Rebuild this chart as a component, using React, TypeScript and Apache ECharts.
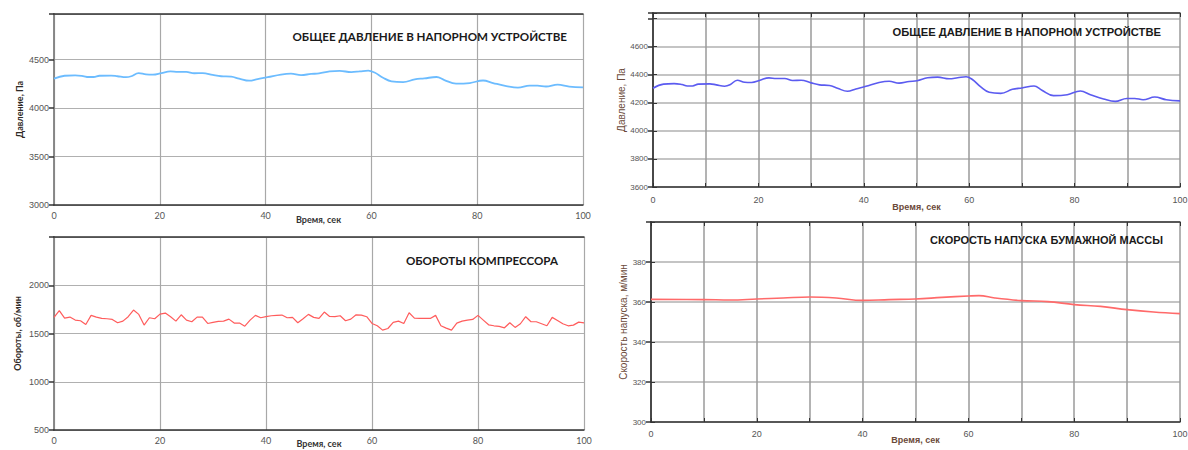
import React, { useEffect, useRef } from "react";
import * as echarts from "echarts";

const pressureTime = [0, 2, 4, 5.5, 6.5, 7.5, 8.6, 10.8, 12, 13.6, 14.6, 16, 17.4, 18.7, 20.3, 22, 23.4, 25, 26.5, 28.1, 30, 31.6, 33.5, 35, 36.9, 38.5, 40.4, 42.9, 44.8, 46.7, 48.6, 50.1, 52.1, 54, 56.2, 57.8, 59.4, 60.6, 62.2, 63.8, 66, 68.2, 70, 72.3, 73.8, 76, 78.6, 81.1, 83, 85.5, 87.7, 89.9, 91.4, 93, 95.2, 97.4, 100];
const pressureValues = [4304, 4333, 4337, 4330, 4320, 4320, 4333, 4335, 4328, 4318, 4328, 4361, 4347, 4345, 4361, 4378, 4373, 4373, 4359, 4361, 4342, 4328, 4323, 4304, 4282, 4299, 4318, 4345, 4354, 4340, 4352, 4357, 4378, 4383, 4371, 4378, 4386, 4366, 4313, 4275, 4267, 4296, 4306, 4320, 4289, 4251, 4258, 4284, 4258, 4227, 4210, 4231, 4231, 4222, 4241, 4222, 4214];

// compressor rpm, one sample per second (0..100 s)
const rpmValues = [1667, 1736, 1660, 1670, 1639, 1632, 1594, 1688, 1670, 1656, 1653, 1646, 1611, 1628, 1674, 1743, 1698, 1587, 1663, 1653, 1701, 1712, 1674, 1628, 1694, 1639, 1622, 1670, 1670, 1604, 1615, 1625, 1628, 1649, 1608, 1608, 1576, 1639, 1688, 1663, 1674, 1684, 1688, 1691, 1663, 1667, 1611, 1653, 1698, 1667, 1656, 1722, 1677, 1674, 1684, 1632, 1649, 1694, 1691, 1674, 1604, 1580, 1535, 1552, 1615, 1628, 1604, 1715, 1660, 1656, 1656, 1656, 1688, 1580, 1556, 1535, 1608, 1628, 1639, 1646, 1688, 1639, 1590, 1580, 1573, 1559, 1611, 1563, 1601, 1674, 1622, 1622, 1601, 1580, 1667, 1635, 1601, 1580, 1587, 1618, 1611];

const speedTime = [0, 10, 15, 20, 25, 30, 35, 40, 45, 50, 55, 60, 62, 65, 70, 75, 80, 85, 90, 95, 100];
const speedValues = [361.3, 361.2, 361, 361.5, 362, 362.5, 362, 360.8, 361.2, 361.5, 362.3, 363, 363.2, 362, 360.7, 360.2, 358.7, 357.8, 356.2, 355, 354.2];

const titles = [
  "ОБЩЕЕ ДАВЛЕНИЕ В НАПОРНОМ УСТРОЙСТВЕ",
  "ОБЩЕЕ ДАВЛЕНИЕ В НАПОРНОМ УСТРОЙСТВЕ",
  "ОБОРОТЫ КОМПРЕССОРА",
  "СКОРОСТЬ НАПУСКА БУМАЖНОЙ МАССЫ",
];
const yNames = ["Давление, Па", "Давление, Па", "Обороты, об/мин", "Скорость напуска, м/мин"];
const xName = "Время, сек";

export default function App() {
  const ref = useRef<HTMLDivElement>(null);
  useEffect(() => {
    if (!ref.current) return;
    const chart = echarts.init(ref.current, undefined, { renderer: "svg" });

    const grids = [
      { left: 54, top: 14, width: 529, height: 191 },
      { left: 653, top: 13, width: 527, height: 174 },
      { left: 54, top: 237, width: 530, height: 193 },
      { left: 651, top: 222, width: 529, height: 200 },
    ];

    const leftStyle = (i: number) => i === 0 || i === 2;
    const fontL = "Lato";
    const fontR = "Liberation Sans";

    const yCfg = [
      { min: 3000, max: 4970, interval: 500, hideAbove: 4600 },
      { min: 3600, max: 4840, interval: 200, hideAbove: 4700 },
      { min: 500, max: 2500, interval: 500, hideAbove: 2400 },
      { min: 300, max: 400, interval: 20, hideAbove: 390 },
    ];
    const xCfg = [
      { interval: 20, margin: 6, nameGap: 10 },
      { interval: 10, margin: 8, nameGap: 15 },
      { interval: 20, margin: 6, nameGap: 9 },
      { interval: 10, margin: 7, nameGap: 13 },
    ];
    const yNameGap = [30, 22, 32, 20];

    const xAxis: any[] = [];
    const yAxis: any[] = [];
    grids.forEach((g, i) => {
      const L = leftStyle(i);
      const gridColor = L ? "#a8a8a8" : "#9a9a9a";
      const hGridColor = L ? "#b0b0b0" : "#c4c4c4";
      xAxis.push({
        type: "value",
        gridIndex: i,
        min: 0,
        max: 100,
        interval: xCfg[i].interval,
        position: "bottom",
        name: xName,
        nameLocation: "middle",
        nameGap: xCfg[i].nameGap,
        nameMoveOverlap: false,
        nameTextStyle: {
          fontFamily: L ? fontL : fontR,
          fontWeight: "bold",
          fontSize: 9,
          color: L ? "#333" : "#6b4a3a",
        },
        axisLine: { show: true, lineStyle: { color: "#333", width: 1.5 } },
        axisTick: { show: !L, inside: true, length: 4, lineStyle: { color: "#333" } },
        axisLabel: {
          margin: xCfg[i].margin,
          fontSize: 9,
          color: "#555",
          fontFamily: L ? fontL : fontR,
          formatter: (v: number) => (v % 20 === 0 ? String(v) : ""),
        },
        splitLine: { show: true, lineStyle: { color: gridColor, width: L ? 1.2 : 1.5 } },
      });
      xAxis.push({
        type: "value",
        gridIndex: i,
        min: 0,
        max: 100,
        interval: xCfg[i].interval,
        position: "top",
        axisLine: { show: true, lineStyle: { color: "#333", width: 1.5 } },
        axisTick: { show: !L, inside: true, length: 4, lineStyle: { color: "#333" } },
        axisLabel: { show: false },
        splitLine: { show: false },
      });
      const yc = yCfg[i];
      yAxis.push({
        type: "value",
        gridIndex: i,
        min: yc.min,
        max: yc.max,
        interval: yc.interval,
        position: "left",
        name: yNames[i],
        nameLocation: "middle",
        nameGap: yNameGap[i],
        nameTextStyle: {
          fontFamily: L ? fontL : fontR,
          fontWeight: L ? "bold" : "normal",
          fontSize: L ? 9 : 10,
          color: L ? "#2f2a26" : "#6b4a3a",
        },
        axisLine: { show: true, lineStyle: { color: "#333", width: 1.5 } },
        axisTick: { show: !L, inside: true, length: 4, lineStyle: { color: "#333" } },
        axisLabel: {
          margin: 5,
          fontSize: L ? 9 : 8,
          color: "#555",
          fontFamily: "Liberation Sans",
          formatter: (v: number) => (v > yc.hideAbove ? "" : String(v)),
        },
        splitLine: { show: true, lineStyle: { color: hGridColor, width: L ? 1.2 : 2 } },
      });
      yAxis.push({
        type: "value",
        gridIndex: i,
        min: yc.min,
        max: yc.max,
        interval: yc.interval,
        position: "right",
        axisLine: { show: true, lineStyle: { color: L ? "#999" : "#444", width: 1.5 } },
        axisTick: { show: true, inside: true, length: 5, lineStyle: { color: "#333", width: 1.5 } },
        axisLabel: { show: false },
        splitLine: { show: false },
      });
    });

    const pressureData = pressureTime.map((t, k) => [t, pressureValues[k]]);
    const rpmData = rpmValues.map((v, k) => [k, v]);
    const speedData = speedTime.map((t, k) => [t, speedValues[k]]);

    const mk = (i: number, data: number[][], color: string, width: number, smooth: boolean | number) => ({
      type: "line",
      xAxisIndex: i * 2,
      yAxisIndex: i * 2,
      data,
      showSymbol: false,
      symbol: "none",
      smooth,
      lineStyle: { color, width },
      silent: true,
    });

    const titlePos = [
      { x: 567, y: 36, font: fontL, size: 11.6 },
      { x: 1161, y: 32, font: fontR, size: 11.2 },
      { x: 558, y: 260, font: fontL, size: 11.6 },
      { x: 1163, y: 240, font: fontR, size: 11 },
    ];

    chart.setOption({
      animation: false,
      backgroundColor: "#ffffff",
      grid: grids.map((g) => ({ ...g, containLabel: false, outerBoundsMode: "none" })),
      xAxis,
      yAxis,
      series: [
        mk(0, pressureData, "#6cbcff", 1.8, 0.4),
        mk(1, pressureData, "#5b5bf0", 1.6, 0.4),
        mk(2, rpmData, "#ff5c5c", 1.2, false),
        mk(3, speedData, "#ff6a6a", 1.6, 0.4),
      ],
      graphic: titles.map((t, i) => ({
        type: "text",
        x: titlePos[i].x,
        y: titlePos[i].y,
        style: {
          text: t,
          align: "right",
          verticalAlign: "middle",
          fontFamily: titlePos[i].font,
          fontWeight: "bold",
          fontSize: titlePos[i].size,
          fill: "#1a1a1a",
        },
        z: 10,
      })),
    });
    return () => chart.dispose();
  }, []);
  return (
    <div
      ref={ref}
      style={{ position: "absolute", left: 0, top: 0, width: 1188, height: 450 }}
    />
  );
}
